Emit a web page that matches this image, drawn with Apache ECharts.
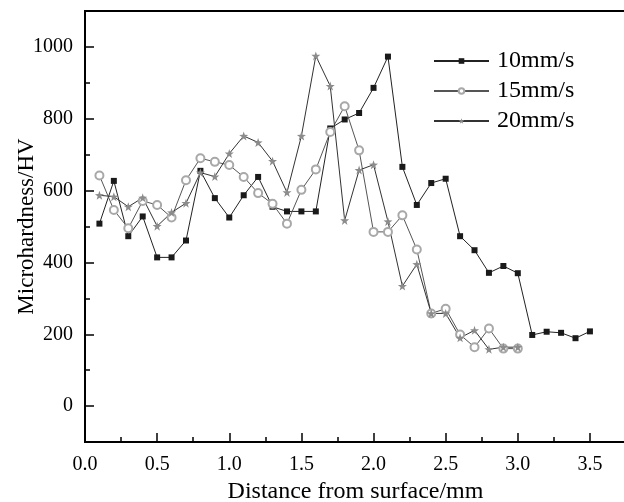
<!DOCTYPE html>
<html>
<head>
<meta charset="utf-8">
<script src="https://cdn.jsdelivr.net/npm/echarts@6/dist/echarts.min.js"></script>
<style>html,body{margin:0;padding:0;background:#fff}#c{width:624px;height:502px}</style>
</head>
<body>
<div id="c"></div>
<script>
const seriesNames = ['10mm/s', '15mm/s', '20mm/s'];
const x10 = [0.1,0.2,0.3,0.4,0.5,0.6,0.7,0.8,0.9,1.0,1.1,1.2,1.3,1.4,1.5,1.6,1.7,1.8,1.9,2.0,2.1,2.2,2.3,2.4,2.5,2.6,2.7,2.8,2.9,3.0,3.1,3.2,3.3,3.4,3.5];
const v10 = [508,627,473,528,414,414,461,655,579,525,587,638,555,542,542,542,773,798,816,886,973,666,560,621,633,473,434,371,390,370,198,207,204,189,208];
const x15 = [0.1,0.2,0.3,0.4,0.5,0.6,0.7,0.8,0.9,1.0,1.1,1.2,1.3,1.4,1.5,1.6,1.7,1.8,1.9,2.0,2.1,2.2,2.3,2.4,2.5,2.6,2.7,2.8,2.9,3.0];
const v15 = [642,546,495,571,560,525,629,690,680,671,638,593,563,508,602,659,763,835,712,485,485,531,436,258,271,199,164,216,160,160];
const x20 = [0.1,0.2,0.3,0.4,0.5,0.6,0.7,0.8,0.9,1.0,1.1,1.2,1.3,1.4,1.5,1.6,1.7,1.8,1.9,2.0,2.1,2.2,2.3,2.4,2.5,2.6,2.7,2.8,2.9,3.0];
const v20 = [587,583,555,580,501,539,565,650,639,703,752,734,682,595,752,975,891,517,657,672,514,334,395,258,258,190,211,158,164,164];
const xTickLabels = ['0.0','0.5','1.0','1.5','2.0','2.5','3.0','3.5'];
const yTickLabels = ['0','200','400','600','800','1000'];

const pairs = (xs, vs) => xs.map((x, i) => [x, vs[i]]);
const star = 'path://M0,-10 L2.35,-3.24 L9.51,-3.09 L3.8,1.24 L5.88,8.09 L0,4 L-5.88,8.09 L-3.8,1.24 L-9.51,-3.09 L-2.35,-3.24 Z';
const FONT = '"Liberation Serif", "Times New Roman", serif';
const isMultiple = (v, step) => Math.abs(v / step - Math.round(v / step)) < 1e-6;

// layout of the plot box
const GL = 85, GT = 11, GB = 60, GR = -2, H = 502;
const YMIN = -100, YMAX = 1100;
const pxPerUnit = (H - GT - GB) / (YMAX - YMIN);
// decoration grid whose extent is exactly 0..1000 on the same scale (major y ticks)
const g1Top = GT + (YMAX - 1000) * pxPerUnit;
const g1Bottom = GB + (0 - YMIN) * pxPerUnit;

const chart = echarts.init(document.getElementById('c'), null, {renderer: 'canvas'});
const axisLine = {show: true, onZero: false, lineStyle: {color: '#000', width: 2}};
chart.setOption({
  animation: false,
  backgroundColor: '#fff',
  grid: [
    {left: GL, right: GR, top: GT, bottom: GB, show: true, borderColor: '#000', borderWidth: 2, outerBoundsMode: 'none', containLabel: false},
    {left: GL, right: GR, top: g1Top, bottom: g1Bottom, show: false, outerBoundsMode: 'none', containLabel: false}
  ],
  legend: {
    orient: 'vertical', left: 428, top: 44, itemWidth: 55, itemHeight: 7, itemGap: 6,
    data: seriesNames,
    textStyle: {fontFamily: FONT, fontSize: 24, color: '#000', lineHeight: 24, padding: [0, 0, 0, 3]}
  },
  xAxis: [
    {
      type: 'value', gridIndex: 0, position: 'bottom', min: 0, max: 3.75, interval: 0.25,
      axisLine: axisLine, splitLine: {show: false},
      axisTick: {show: true, inside: true, length: 5, lineStyle: {color: '#000', width: 1.5}},
      axisLabel: {show: false}
    },
    {
      type: 'value', gridIndex: 0, position: 'bottom', min: 0, max: 3.75, interval: 0.5,
      axisLine: axisLine, splitLine: {show: false},
      name: 'Distance from surface/mm', nameLocation: 'middle', nameGap: 38,
      nameTextStyle: {fontFamily: FONT, fontSize: 24, color: '#000'},
      axisTick: {show: true, inside: true, length: 9, lineStyle: {color: '#000', width: 1.5}},
      axisLabel: {show: true, margin: 13, fontFamily: FONT, fontSize: 20, color: '#000',
        formatter: v => isMultiple(v, 0.5) ? xTickLabels[Math.round(v / 0.5)] : ''}
    },
    {type: 'value', gridIndex: 1, min: 0, max: 3.75, show: false}
  ],
  yAxis: [
    {
      type: 'value', gridIndex: 0, position: 'left', min: YMIN, max: YMAX, interval: 100,
      axisLine: axisLine, splitLine: {show: false},
      name: 'Microhardness/HV', nameLocation: 'middle', nameGap: 47, nameRotate: 90,
      nameTextStyle: {fontFamily: FONT, fontSize: 23, color: '#000'},
      axisTick: {show: true, inside: true, length: 5, lineStyle: {color: '#000', width: 1.5}},
      axisLabel: {show: false}
    },
    {
      type: 'value', gridIndex: 1, position: 'left', min: 0, max: 1000, interval: 200,
      axisLine: {show: false}, splitLine: {show: false},
      axisTick: {show: true, inside: true, length: 9, lineStyle: {color: '#000', width: 1.5}},
      axisLabel: {show: true, margin: 12, fontFamily: FONT, fontSize: 20, color: '#000',
        formatter: v => yTickLabels[Math.round(v / 200)]}
    }
  ],
  series: [
    {name: seriesNames[0], type: 'line', xAxisIndex: 0, yAxisIndex: 0, data: pairs(x10, v10), symbol: 'rect', symbolSize: 6,
      itemStyle: {color: '#1a1a1a'}, lineStyle: {color: '#222', width: 1}},
    {name: seriesNames[1], type: 'line', xAxisIndex: 0, yAxisIndex: 0, data: pairs(x15, v15), symbol: 'emptyCircle', symbolSize: 8,
      itemStyle: {color: '#a8a8a8', borderWidth: 1}, lineStyle: {color: '#555', width: 1}},
    {name: seriesNames[2], type: 'line', xAxisIndex: 0, yAxisIndex: 0, data: pairs(x20, v20), symbol: star, symbolSize: 9,
      itemStyle: {color: '#8c8c8c'}, lineStyle: {color: '#333', width: 1}}
  ]
});
</script>
</body>
</html>
